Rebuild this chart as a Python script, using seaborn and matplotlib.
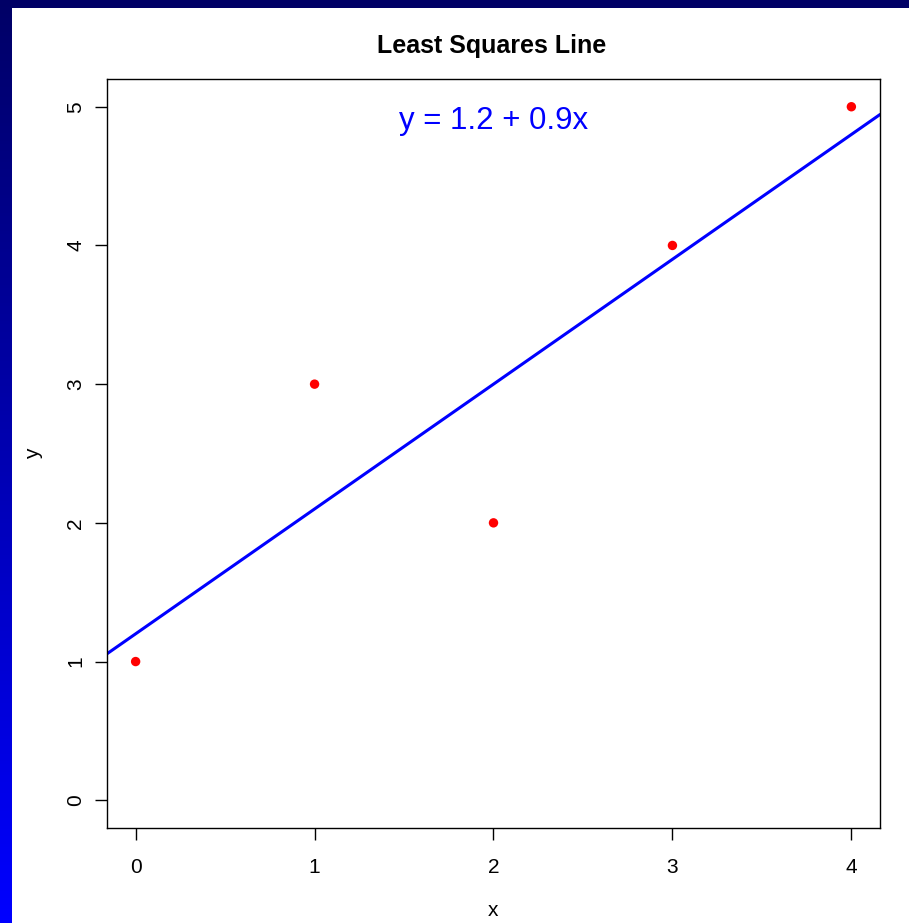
import numpy as np
import pandas as pd
import matplotlib
matplotlib.use("Agg")
import matplotlib.pyplot as plt
import seaborn as sns
from matplotlib.colors import LinearSegmentedColormap

# Data
x_vals = [0, 1, 2, 3, 4]
y_vals = [1, 3, 2, 4, 5]
intercept = 1.2
slope = 0.9
title_text = "Least Squares Line"
eq_text = "y = 1.2 + 0.9x"
x_ticks = [0, 1, 2, 3, 4]
y_ticks = [0, 1, 2, 3, 4, 5]

sns.set_theme(style="ticks")
plt.rcParams['font.family'] = ['Liberation Sans', 'DejaVu Sans']
plt.rcParams['text.color'] = 'black'
plt.rcParams['axes.labelcolor'] = 'black'
plt.rcParams['xtick.color'] = 'black'
plt.rcParams['ytick.color'] = 'black'

W, H = 909, 923
fig = plt.figure(figsize=(W / 100, H / 100), dpi=100)
fig.patch.set_facecolor("white")

# slide-style background strips
ax_top = fig.add_axes([0, 1 - 8 / H, 1, 8 / H])
ax_top.set_axis_off()
ax_top.add_patch(plt.Rectangle((0, 0), 1, 1, transform=ax_top.transAxes, color="#000066"))

ax_left = fig.add_axes([0, 0, 12 / W, 1])
grad = np.linspace(0, 1, 256).reshape(-1, 1)
cmap = LinearSegmentedColormap.from_list("slide", ["#000066", "#0000ff"])
ax_left.imshow(grad, aspect="auto", cmap=cmap, extent=[0, 1, 0, 1], origin="upper")
ax_left.set_axis_off()

ax = fig.add_axes([107 / W, 1 - 828 / H, (880 - 107) / W, (828 - 79) / H])
df = pd.DataFrame({"x": x_vals, "y": y_vals})

xlim = (-0.16, 4.16)
xl = np.array(xlim)
line_df = pd.DataFrame({"x": xl, "y": intercept + slope * xl})
sns.lineplot(data=line_df, x="x", y="y", ax=ax, color="#0000ff", linewidth=2.2)
sns.scatterplot(data=df, x="x", y="y", ax=ax, color="#ff0000", s=46, edgecolor="none", zorder=3)

ax.set_xlim(*xlim)
ax.set_ylim(-0.2, 5.2)
ax.set_xticks(x_ticks)
ax.set_yticks(y_ticks)
ax.set_xticklabels([str(v) for v in x_ticks])
ax.set_yticklabels([str(v) for v in y_ticks], rotation=90, va="center")
ax.tick_params(axis="both", direction="out", length=8.6, width=1, labelsize=15)
ax.tick_params(axis="x", pad=13)
ax.tick_params(axis="y", pad=7)
for s in ax.spines.values():
    s.set_visible(True)
    s.set_color("black")
    s.set_linewidth(1)
ax.set_xlabel("x", fontsize=15, labelpad=17)
ax.set_ylabel("y", fontsize=15, labelpad=17)

ax.text(2.0, 4.9, eq_text, color="#0000ff", fontsize=22.5, ha="center", va="center")
fig.text(492 / W, 1 - 46 / H, title_text, fontsize=18, fontweight="bold", ha="center", va="center")

fig.savefig("out.png", dpi=100)
